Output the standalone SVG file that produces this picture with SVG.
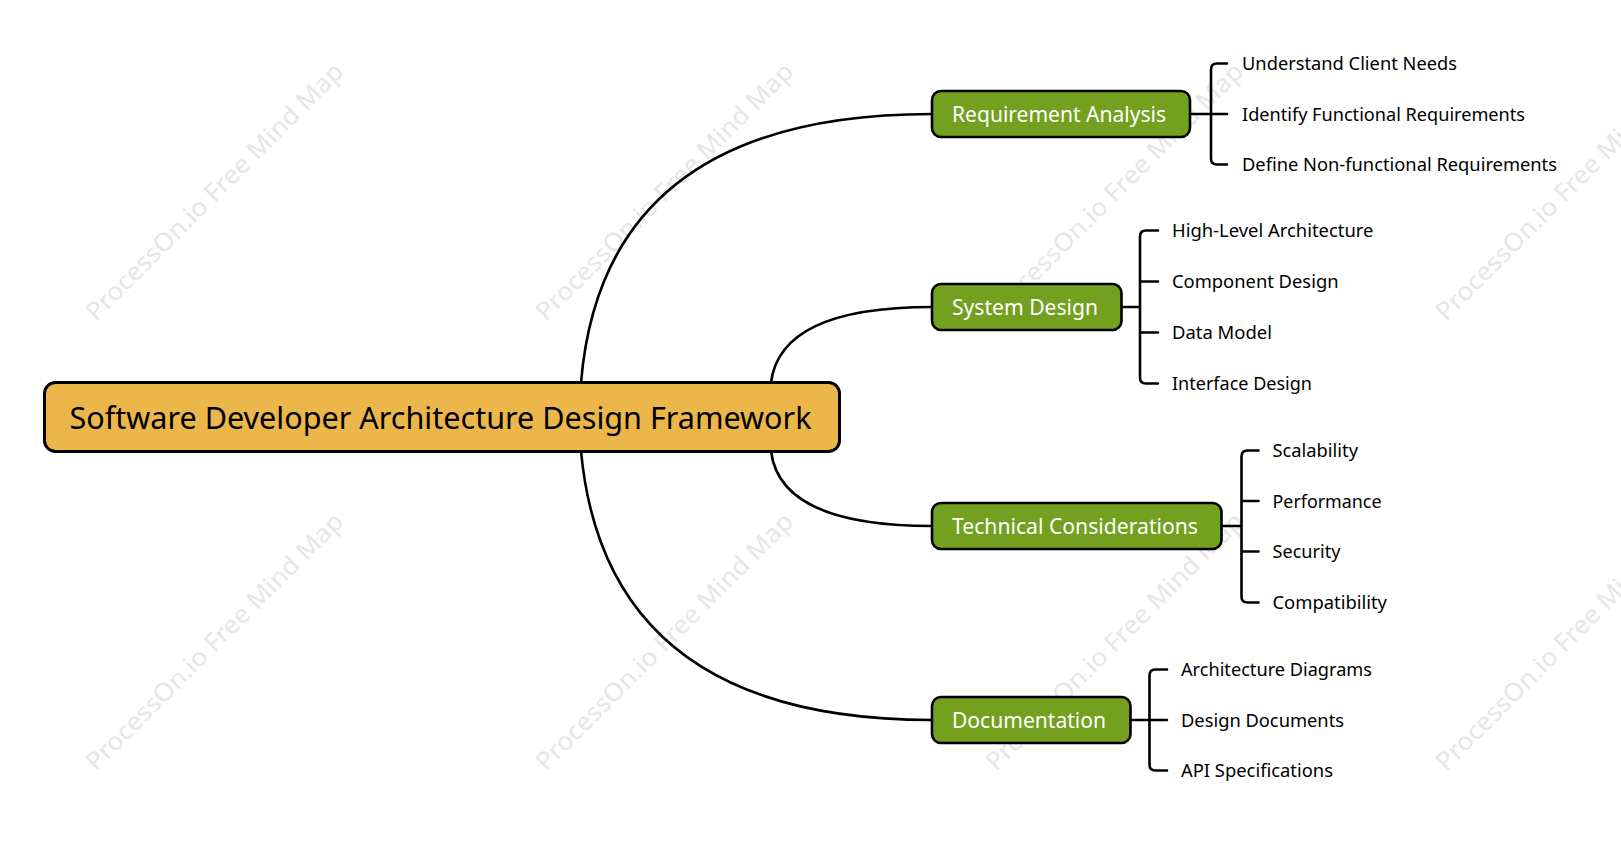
<svg xmlns="http://www.w3.org/2000/svg" width="1621" height="849" viewBox="0 0 1621 849">
<style>
  .wm { font-family: "Noto Sans", "Open Sans", sans-serif; font-size: 25px; fill: #e6e6e6; }
  .link { fill: none; stroke: #000; stroke-width: 2.6; stroke-linecap: round; }
  .root { fill: #ECB74A; stroke: #000; stroke-width: 3; }
  .main { fill: #73A01F; stroke: #000; stroke-width: 2.6; }
  .rootText { font-family: "Noto Sans", "Open Sans", sans-serif; font-size: 30px; fill: #000; }
  .mainText { font-family: "Noto Sans", "Open Sans", sans-serif; font-size: 21px; fill: #fff; }
  .leaf { font-family: "Noto Sans", "Open Sans", sans-serif; font-size: 18px; fill: #000; }
</style>
<rect width="1621" height="849" fill="#fff"/>
<g id="watermarks">
  <text class="wm" transform="translate(96,322) rotate(-45)" textLength="352" lengthAdjust="spacingAndGlyphs">ProcessOn.io Free Mind Map</text>
  <text class="wm" transform="translate(546,322) rotate(-45)" textLength="352" lengthAdjust="spacingAndGlyphs">ProcessOn.io Free Mind Map</text>
  <text class="wm" transform="translate(996,322) rotate(-45)" textLength="352" lengthAdjust="spacingAndGlyphs">ProcessOn.io Free Mind Map</text>
  <text class="wm" transform="translate(1446,322) rotate(-45)" textLength="352" lengthAdjust="spacingAndGlyphs">ProcessOn.io Free Mind Map</text>
  <text class="wm" transform="translate(96,772) rotate(-45)" textLength="352" lengthAdjust="spacingAndGlyphs">ProcessOn.io Free Mind Map</text>
  <text class="wm" transform="translate(546,772) rotate(-45)" textLength="352" lengthAdjust="spacingAndGlyphs">ProcessOn.io Free Mind Map</text>
  <text class="wm" transform="translate(996,772) rotate(-45)" textLength="352" lengthAdjust="spacingAndGlyphs">ProcessOn.io Free Mind Map</text>
  <text class="wm" transform="translate(1446,772) rotate(-45)" textLength="352" lengthAdjust="spacingAndGlyphs">ProcessOn.io Free Mind Map</text>
</g>
<g id="connectors">
  <path class="link" d="M581,383 Q603,114 932,114"/>
  <path class="link" d="M771,383 Q780,307 932,307"/>
  <path class="link" d="M771,451 Q780,526 932,526"/>
  <path class="link" d="M581,451 Q606,720 932,720"/>
  <path class="link" d="M1190,114 H1227 M1227,63.5 H1217 Q1211,63.5 1211,69.5 V158.5 Q1211,164.5 1217,164.5 H1227"/>
  <path class="link" d="M1121.5,307 H1140 M1158,230.5 H1146 Q1140,230.5 1140,236.5 V377.5 Q1140,383.5 1146,383.5 H1158 M1140,281.5 H1158 M1140,332.5 H1158"/>
  <path class="link" d="M1221.5,526 H1241.5 M1258.5,450.5 H1247.5 Q1241.5,450.5 1241.5,456.5 V596.5 Q1241.5,602.5 1247.5,602.5 H1258.5 M1241.5,501 H1258.5 M1241.5,551.5 H1258.5"/>
  <path class="link" d="M1130.5,720 H1167 M1167,669.5 H1155.5 Q1149.5,669.5 1149.5,675.5 V764.5 Q1149.5,770.5 1155.5,770.5 H1167"/>
</g>
<g id="root">
  <rect class="root" x="44.5" y="382.5" width="795" height="69" rx="11"/>
  <text class="rootText" x="69.5" y="428.5" textLength="742" lengthAdjust="spacingAndGlyphs">Software Developer Architecture Design Framework</text>
</g>
<g id="node-requirement">
  <rect class="main" x="932" y="91" width="258" height="46" rx="9"/>
  <text class="mainText" x="952" y="121.5" textLength="214" lengthAdjust="spacingAndGlyphs">Requirement Analysis</text>
</g>
<g id="node-system">
  <rect class="main" x="932" y="284" width="189.5" height="46" rx="9"/>
  <text class="mainText" x="952" y="314.5" textLength="146" lengthAdjust="spacingAndGlyphs">System Design</text>
</g>
<g id="node-technical">
  <rect class="main" x="932" y="503" width="289.5" height="46" rx="9"/>
  <text class="mainText" x="952" y="533.5" textLength="246" lengthAdjust="spacingAndGlyphs">Technical Considerations</text>
</g>
<g id="node-documentation">
  <rect class="main" x="932" y="697" width="198.5" height="46" rx="9"/>
  <text class="mainText" x="952" y="727.5" textLength="154" lengthAdjust="spacingAndGlyphs">Documentation</text>
</g>
<g id="leaves-requirement">
  <text class="leaf" x="1242" y="70" textLength="215" lengthAdjust="spacingAndGlyphs">Understand Client Needs</text>
  <text class="leaf" x="1242" y="120.5" textLength="283" lengthAdjust="spacingAndGlyphs">Identify Functional Requirements</text>
  <text class="leaf" x="1242" y="171" textLength="315" lengthAdjust="spacingAndGlyphs">Define Non-functional Requirements</text>
</g>
<g id="leaves-system">
  <text class="leaf" x="1172" y="237" textLength="201.5" lengthAdjust="spacingAndGlyphs">High-Level Architecture</text>
  <text class="leaf" x="1172" y="288" textLength="166.5" lengthAdjust="spacingAndGlyphs">Component Design</text>
  <text class="leaf" x="1172" y="339" textLength="100" lengthAdjust="spacingAndGlyphs">Data Model</text>
  <text class="leaf" x="1172" y="390" textLength="140" lengthAdjust="spacingAndGlyphs">Interface Design</text>
</g>
<g id="leaves-technical">
  <text class="leaf" x="1272.5" y="457" textLength="85.5" lengthAdjust="spacingAndGlyphs">Scalability</text>
  <text class="leaf" x="1272.5" y="507.5" textLength="109" lengthAdjust="spacingAndGlyphs">Performance</text>
  <text class="leaf" x="1272.5" y="558" textLength="68" lengthAdjust="spacingAndGlyphs">Security</text>
  <text class="leaf" x="1272.5" y="609" textLength="114.5" lengthAdjust="spacingAndGlyphs">Compatibility</text>
</g>
<g id="leaves-documentation">
  <text class="leaf" x="1181" y="676" textLength="191" lengthAdjust="spacingAndGlyphs">Architecture Diagrams</text>
  <text class="leaf" x="1181" y="726.5" textLength="163" lengthAdjust="spacingAndGlyphs">Design Documents</text>
  <text class="leaf" x="1181" y="777" textLength="152" lengthAdjust="spacingAndGlyphs">API Specifications</text>
</g>
</svg>
